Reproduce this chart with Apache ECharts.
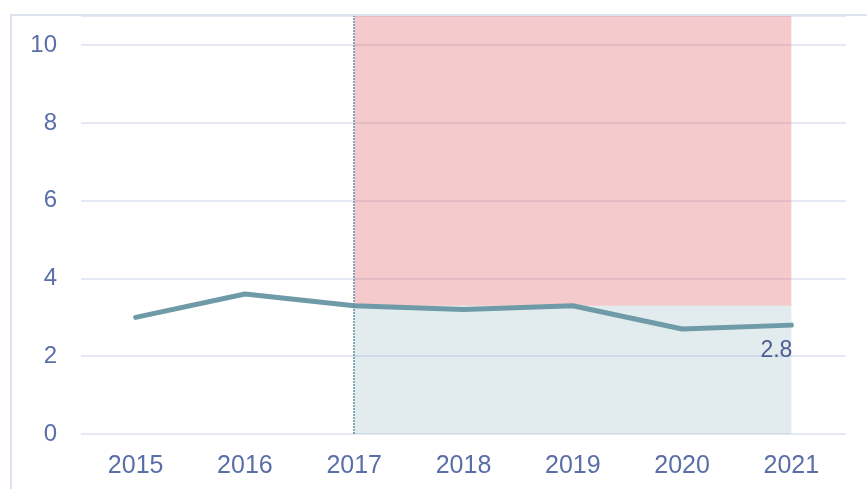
<!DOCTYPE html>
<html>
<head>
<meta charset="utf-8">
<script src="https://cdn.jsdelivr.net/npm/echarts@6/dist/echarts.min.js"></script>
<style>
  html, body { margin: 0; padding: 0; background: #fff; }
  #main { width: 867px; height: 489px; }
</style>
</head>
<body>
<div id="main"></div>
<script>
const years = ['2015', '2016', '2017', '2018', '2019', '2020', '2021'];
const values = [3.0, 3.6, 3.3, 3.2, 3.3, 2.7, 2.8];
const splitYear = '2017';
const lastYear = '2021';
const splitValue = 3.3;
const yMax = 10.75;

const myChart = echarts.init(document.getElementById('main'));

const lineData = values.map((v, i) => {
    if (i === values.length - 1) {
        return {
            value: v,
            label: {
                show: true,
                position: 'bottom',
                align: 'right',
                distance: 12,
                offset: [1, 2],
                formatter: '{c}',
                fontSize: 23,
                color: '#4e5d94',
                fontFamily: 'Liberation Sans'
            }
        };
    }
    return v;
});

const option = {
    animation: false,
    graphic: [
        {
            type: 'rect',
            z: -10,
            shape: { x: 11, y: 15, width: 1000, height: 1000 },
            style: { fill: 'none', stroke: '#dde2ef', lineWidth: 2 }
        }
    ],
    grid: {
        left: 81,
        right: 21,
        top: 16,
        bottom: 55
    },
    xAxis: {
        type: 'category',
        data: years,
        boundaryGap: true,
        axisLine: { show: false },
        axisTick: { show: false },
        axisLabel: {
            fontSize: 25,
            color: '#5a6ea8',
            fontFamily: 'Liberation Sans',
            margin: 20
        }
    },
    yAxis: {
        type: 'value',
        min: 0,
        max: yMax,
        interval: 2,
        axisLine: { show: false },
        axisTick: { show: false },
        axisLabel: {
            fontSize: 24,
            color: '#5a6ea8',
            fontFamily: 'Liberation Sans',
            margin: 24,
            showMaxLabel: false
        },
        splitLine: {
            lineStyle: { color: '#dde2ef', width: 1.5 }
        }
    },
    series: [
        {
            type: 'line',
            data: lineData,
            showSymbol: true,
            symbol: 'circle',
            symbolSize: 0,
            lineStyle: { color: '#6f9aa8', width: 5, cap: 'round', join: 'round' },
            itemStyle: { color: '#6f9aa8' },
            markLine: {
                silent: true,
                symbol: 'none',
                label: { show: false },
                lineStyle: { color: '#5f8fa0', type: [2, 1], width: 1.5 },
                data: [{ xAxis: splitYear }]
            },
            markArea: {
                silent: true,
                data: [
                    [
                        { xAxis: splitYear, yAxis: splitValue, itemStyle: { color: 'rgba(220, 90, 95, 0.32)' } },
                        { xAxis: lastYear, yAxis: yMax }
                    ],
                    [
                        { xAxis: splitYear, yAxis: 0, itemStyle: { color: 'rgba(111, 154, 168, 0.2)' } },
                        { xAxis: lastYear, yAxis: splitValue }
                    ]
                ]
            }
        }
    ]
};

myChart.setOption(option);
</script>
</body>
</html>
